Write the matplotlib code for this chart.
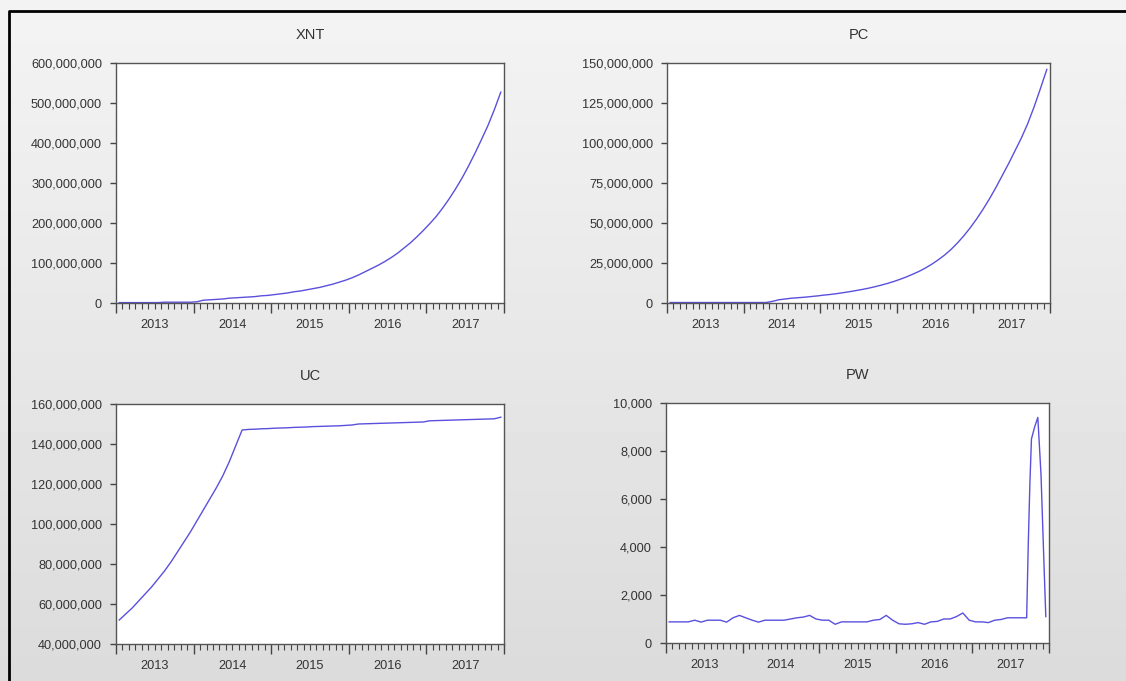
import numpy as np
import matplotlib.pyplot as plt
from matplotlib.ticker import FuncFormatter, MultipleLocator
from matplotlib.lines import Line2D

# monthly observations 2013M01 - 2017M12 (values in millions for XNT, PC, UC)
xnt = [1, 1, 1, 1, 1, 1, 1, 2, 2, 2, 2, 2, 3,
       7, 8, 9, 10, 12, 13, 14, 15, 16, 18, 19,
       21, 23, 25, 28, 30, 33, 36, 39, 43, 47, 52, 57,
       63, 70, 78, 86, 94, 103, 113, 124, 137, 150, 165, 181,
       198, 216, 237, 260, 285, 312, 342, 374, 408, 443, 483, 527]

pc = [0.3] * 16 + [1, 2, 2.5, 3, 3.3, 3.6, 4, 4.4,
      4.9, 5.3, 5.8, 6.4, 7, 7.7, 8.4, 9.2, 10.1, 11.1, 12.2, 13.4,
      14.8, 16.3, 18, 19.8, 21.9, 24.3, 27, 30, 33.5, 37.5, 42, 47,
      52.5, 58.5, 65, 72, 79.5, 87, 95, 103, 112, 122.5, 134, 146]

uc = [52, 55, 58, 61.5, 65, 68.5, 72.5, 76.5, 81, 86, 91, 96,
      101.5, 107, 112.5, 118, 124, 131, 139, 147, 147.3, 147.4, 147.6, 147.7,
      147.9, 148.0, 148.1, 148.3, 148.4, 148.5, 148.7, 148.8, 148.9, 149.0, 149.1, 149.3,
      149.5, 150.0, 150.1, 150.2, 150.3, 150.4, 150.5, 150.6, 150.7, 150.8, 150.9, 151.0,
      151.6, 151.7, 151.8, 151.9, 152.0, 152.1, 152.2, 152.3, 152.4, 152.5, 152.6, 153.4]

# PW: monthly up to 2017M09, then weekly-ish points through the spike
pw_t = list(range(57)) + [56.25, 56.5, 56.75, 57.25, 57.75, 58.25, 58.75, 59]
pw = [880, 880, 880, 880, 950, 870, 950, 950, 950, 870, 1050, 1150,
      1050, 950, 870, 950, 950, 950, 950, 1000, 1050, 1080, 1150, 1000,
      950, 950, 780, 880, 880, 880, 880, 880, 950, 980, 1150, 950,
      800, 780, 800, 850, 780, 880, 900, 1000, 1000, 1100, 1250, 950,
      880, 880, 850, 950, 980, 1050, 1050, 1050, 1050,
      4100, 6600, 8500, 9000, 9400, 7000, 3000, 1100]

months = np.arange(60)
years = [2013, 2014, 2015, 2016, 2017]

W, H = 1126, 681
fig = plt.figure(figsize=(W / 100, H / 100), dpi=100)
plt.rcParams['font.family'] = ['Liberation Sans', 'DejaVu Sans']

bg = fig.add_axes([0, 0, 1, 1], zorder=-10)
grad = np.linspace(0.955, 0.86, 200).reshape(-1, 1)
bg.imshow(grad, cmap='gray', vmin=0, vmax=1, aspect='auto', extent=[0, 1, 0, 1])
bg.set_xlim(0, 1)
bg.set_ylim(0, 1)
bg.axis('off')
fig.add_artist(Line2D([9 / W, 9 / W, 1], [0, 1 - 11 / H, 1 - 11 / H],
                      transform=fig.transFigure, color='black', lw=2))


def box(l, r, t, b):
    return [l / W, 1 - b / H, (r - l) / W, (b - t) / H]


def panel(rect, title, x, y, ylim, ystep, scale):
    ax = fig.add_axes(box(*rect))
    ax.plot(2013 + (np.asarray(x) + 0.5) / 12, np.asarray(y) * scale,
            color='#5a50dc', lw=1)
    ax.set_xlim(2013, 2018)
    ax.set_ylim(ylim[0] * scale, ylim[1] * scale)
    ax.yaxis.set_major_locator(MultipleLocator(ystep * scale))
    ax.yaxis.set_major_formatter(FuncFormatter(lambda v, p: f"{v:,.0f}"))
    ax.set_xticks(range(2013, 2019))
    ax.set_xticklabels([])
    ax.xaxis.set_minor_locator(MultipleLocator(1 / 12))
    ax.tick_params(axis='x', which='major', length=7, width=1, color='#444')
    ax.tick_params(axis='x', which='minor', length=4, width=0.8, color='#444')
    ax.tick_params(axis='y', length=4, width=1, color='#444', pad=6,
                   labelsize=9.2, labelcolor='#333')
    for s in ax.spines.values():
        s.set_color('#555')
        s.set_linewidth(1)
    for yr in years:
        ax.text(yr + 0.5, -0.09, str(yr), transform=ax.get_xaxis_transform(),
                ha='center', va='center', fontsize=9.2, color='#333')
    ax.set_title(title, fontsize=10.5, color='#333', pad=17)
    return ax


panel((116, 504, 63, 303), 'XNT', months, xnt, (0, 600), 100, 1e6)
panel((667, 1050, 63, 303), 'PC', months, pc, (0, 150), 25, 1e6)
panel((116, 504, 404, 644), 'UC', months, uc, (40, 160), 20, 1e6)
panel((666, 1049, 403, 643), 'PW', pw_t, pw, (0, 10000), 2000, 1)

fig.savefig('out.png', dpi=100)
